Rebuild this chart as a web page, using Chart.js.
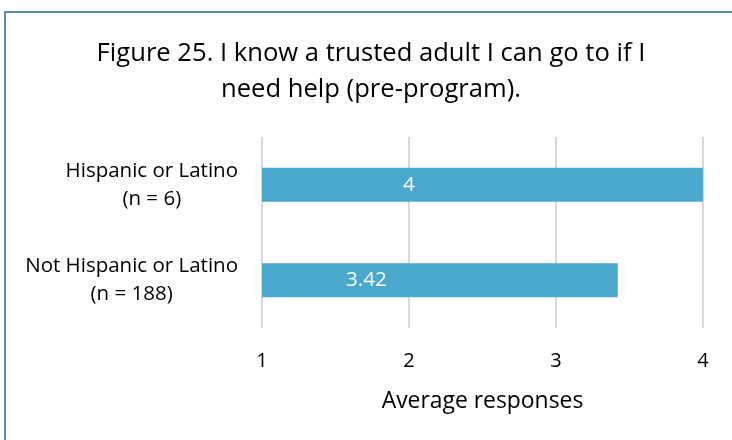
<!DOCTYPE html>
<html>
<head>
<meta charset="utf-8">
<script src="https://cdn.jsdelivr.net/npm/chart.js@4/dist/chart.umd.min.js"></script>
<style>
  html, body { margin: 0; padding: 0; background: #fff; }
  body { width: 732px; height: 440px; position: relative; overflow: hidden; }
  #frame {
    position: absolute; left: 4px; top: 11px; width: 760px; height: 460px;
    border: 2px solid #5b8ca5; box-sizing: border-box;
  }
  #wrap { position: absolute; left: 0; top: 0; width: 732px; height: 440px; }
</style>
</head>
<body>
<div id="frame"></div>
<div id="wrap"><canvas id="chart"></canvas></div>
<script>
const categories = [
    ["Hispanic or Latino", "(n = 6)"],
    ["Not Hispanic or Latino", "(n = 188)"]
];
const averages = [4, 3.42];
const xTicks = [1, 2, 3, 4];
const titleLines = ["Figure 25. I know a trusted adult I can go to if I", "need help (pre-program)."];
const xTitle = "Average responses";

const FONT = "'Open Sans', sans-serif";

// pick a font size so a string comes out about as wide as in the original
const measurer = document.createElement("canvas").getContext("2d");
function fitSize(text, width) {
    measurer.font = "100px " + FONT;
    return Math.round(100 * width / measurer.measureText(text).width * 10) / 10;
}
const titleSize = fitSize(titleLines[0], 549);
const catSize = fitSize(categories[0][0], 172);
const axisTitleSize = fitSize(xTitle, 202);
const valueSize = fitSize("3.42", 41);
const tickSize = Math.round(axisTitleSize * 0.88);

// white value labels in the middle of each bar
const barValues = {
    id: "barValues",
    afterDatasetsDraw(chart) {
        const ctx = chart.ctx;
        ctx.save();
        ctx.fillStyle = "#ffffff";
        ctx.font = valueSize + "px " + FONT;
        ctx.textAlign = "center";
        ctx.textBaseline = "middle";
        chart.getDatasetMeta(0).data.forEach((bar, i) => {
            ctx.fillText(String(averages[i]), (bar.base + bar.x) / 2, bar.y);
        });
        ctx.restore();
    }
};

// category labels: each group right aligned, its lines centred on each other
const catLabels = {
    id: "catLabels",
    afterDraw(chart) {
        const ctx = chart.ctx;
        const y = chart.scales.y;
        ctx.save();
        ctx.fillStyle = "#000000";
        ctx.font = catSize + "px " + FONT;
        ctx.textAlign = "center";
        ctx.textBaseline = "middle";
        categories.forEach((lines, i) => {
            const w = Math.max(...lines.map(l => ctx.measureText(l).width));
            const cx = 238 - w / 2;
            const cy = y.getPixelForValue(i);
            lines.forEach((l, k) => {
                ctx.fillText(l, cx, cy + (k - (lines.length - 1) / 2) * 28);
            });
        });
        ctx.restore();
    }
};

new Chart(document.getElementById("chart"), {
    type: "bar",
    data: {
        labels: categories,
        datasets: [{
            data: averages,
            backgroundColor: "#4aa8ce",
            borderWidth: 0,
            barPercentage: 0.356,
            categoryPercentage: 1
        }]
    },
    options: {
        indexAxis: "y",
        responsive: true,
        maintainAspectRatio: false,
        animation: false,
        layout: { padding: { top: 36, right: 29, bottom: 32, left: 39 } },
        plugins: {
            legend: { display: false },
            tooltip: { enabled: false },
            title: {
                display: true,
                text: titleLines,
                color: "#000000",
                font: { family: FONT, size: titleSize, weight: "normal", lineHeight: "36px" },
                padding: { top: 0, bottom: 29 }
            }
        },
        scales: {
            x: {
                min: 1,
                max: 4,
                afterBuildTicks(scale) { scale.ticks = xTicks.map(v => ({ value: v })); },
                border: { display: false },
                grid: { color: "#d9d9d9", lineWidth: 2, drawTicks: false },
                // chart.js puts this padding above and below the labels
                ticks: { color: "#000000", padding: 23, font: { family: FONT, size: tickSize, lineHeight: "20px" } },
                title: {
                    display: true,
                    text: xTitle,
                    color: "#000000",
                    font: { family: FONT, size: axisTitleSize, lineHeight: "14px" },
                    padding: { top: 0, bottom: 0 }
                }
            },
            y: {
                border: { display: false },
                grid: { display: false },
                ticks: { display: false },
                afterFit(scale) { scale.width = 223; }
            }
        }
    },
    plugins: [barValues, catLabels]
});
</script>
</body>
</html>
